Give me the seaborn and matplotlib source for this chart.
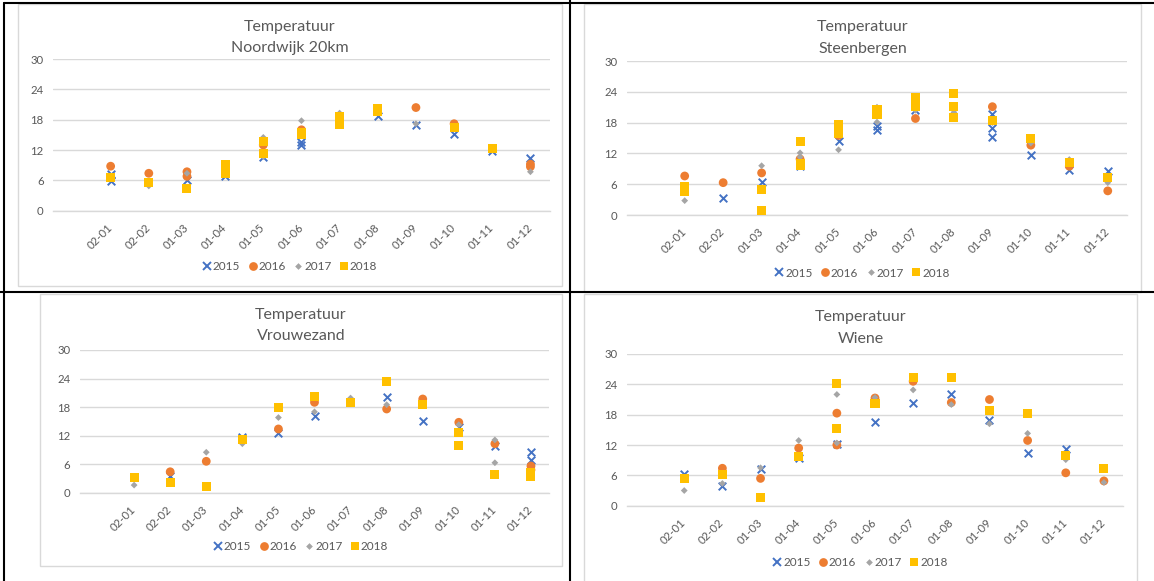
import numpy as np
import pandas as pd
import matplotlib
matplotlib.use("Agg")
import matplotlib.pyplot as plt
import seaborn as sns
from matplotlib.lines import Line2D
from matplotlib.patches import Rectangle

# ---------------- data ----------------
months = ["02-01", "02-02", "01-03", "01-04", "01-05", "01-06",
          "01-07", "01-08", "01-09", "01-10", "01-11", "01-12"]
years = ["2015", "2016", "2017", "2018"]
title_main = "Temperatuur"
locations = ["Noordwijk 20km", "Steenbergen", "Vrouwezand", "Wiene"]

# one list per month (several readings per month possible)
noordwijk_2015 = [[5.8, 7.3], [], [6.1], [8.0, 6.8], [10.6], [13.5, 13.0], [], [18.7], [17.0], [15.2], [11.8], [10.5]]
noordwijk_2016 = [[8.8], [7.4], [7.7, 6.8], [], [13.0], [16.0], [], [], [20.4], [17.2], [], [9.2, 8.7]]
noordwijk_2017 = [[], [4.9], [7.4], [], [14.5, 10.7], [17.8, 15.6], [19.3], [], [17.2], [], [], [7.7]]
noordwijk_2018 = [[6.5], [5.6], [4.3], [9.2, 7.3], [13.7, 11.4], [15.0, 15.4], [18.6, 17.8, 17.0], [20.3, 19.6], [], [16.4], [12.3], []]

steenbergen_2015 = [[], [3.4], [6.5], [9.5], [14.5], [17.3, 16.5], [20.4], [], [19.7, 17.0, 15.1], [11.7], [8.8], [8.6]]
steenbergen_2016 = [[7.6], [6.3], [8.2], [10.9], [15.5], [], [18.8], [], [21.1], [13.6], [9.5], [4.7]]
steenbergen_2017 = [[2.8], [], [9.6], [12.1, 11.3], [16.7, 12.7], [18.1, 21.0], [20.4], [20.0], [18.0], [14.0], [10.8], [6.3]]
steenbergen_2018 = [[5.5, 4.6], [], [4.9, 0.8], [14.4, 10.1, 9.6], [17.7, 15.9], [20.5, 19.5], [22.8, 21.2], [23.7, 21.2, 19.0], [18.5], [14.9], [10.2], [7.3]]

vrouwezand_2015 = [[], [3.5], [], [11.8], [12.6], [16.2], [], [20.1], [15.1], [13.9], [9.8], [8.5, 6.9]]
vrouwezand_2016 = [[], [4.4], [6.6], [], [13.4], [19.0], [], [17.6], [19.7], [14.8], [10.3], [5.6, 4.8]]
vrouwezand_2017 = [[1.6], [], [8.5], [10.3], [15.8], [17.0], [19.9], [18.5], [], [14.3], [11.1, 6.3], []]
vrouwezand_2018 = [[3.2], [2.2], [1.3], [11.2], [18.0], [20.2], [18.9], [23.4], [18.6], [12.7, 9.9], [3.9], [4.2, 3.5]]

wiene_2015 = [[6.3], [3.8], [7.3], [9.4], [12.2], [16.5], [20.3], [22.1], [16.9], [10.4], [11.3], []]
wiene_2016 = [[], [7.4], [5.4], [11.4], [18.3, 12.0], [21.3], [24.6], [20.4], [21.0], [12.9], [6.5], [4.9]]
wiene_2017 = [[3.0], [4.4], [7.5], [12.9], [22.0, 12.4], [21.4], [22.9], [20.0], [16.2], [14.3], [9.1], [4.6]]
wiene_2018 = [[5.4], [6.1], [1.7], [9.8], [24.2, 15.2], [20.3], [25.4], [25.4], [18.8], [18.2], [10.0], [7.3]]

series = {
    "Noordwijk 20km": [noordwijk_2015, noordwijk_2016, noordwijk_2017, noordwijk_2018],
    "Steenbergen": [steenbergen_2015, steenbergen_2016, steenbergen_2017, steenbergen_2018],
    "Vrouwezand": [vrouwezand_2015, vrouwezand_2016, vrouwezand_2017, vrouwezand_2018],
    "Wiene": [wiene_2015, wiene_2016, wiene_2017, wiene_2018],
}

rows = []
for loc, per_year in series.items():
    for yr, vals in zip(years, per_year):
        for mi, lst in enumerate(vals):
            for v in lst:
                rows.append({"loc": loc, "year": yr, "month": months[mi], "temp": v})
df = pd.DataFrame(rows)
# category slot 0 is empty in the original chart
cat_order = [""] + months
df["pos"] = df["month"].map({m: i for i, m in enumerate(cat_order)})

# ---------------- style ----------------
sns.set_style("white")
plt.rcParams["font.family"] = ["Lato", "DejaVu Sans"]

W, H = 1154, 581
fig = plt.figure(figsize=(W / 100, H / 100), dpi=100)
fig.patch.set_facecolor("white")

TXT = "#595959"
GRID = "#D9D9D9"
styles = {
    "2015": dict(marker="x", color="#4472C4", s=30, linewidth=1.4),
    "2016": dict(marker="o", color="#ED7D31", s=40, linewidth=0),
    "2017": dict(marker="D", color="#A5A5A5", s=12, linewidth=0),
    "2018": dict(marker="s", color="#FFC000", s=42, linewidth=0),
}
leg_ms = {"2015": 5.5, "2016": 6.3, "2017": 3.4, "2018": 6.4}

layout = {
    "Noordwijk 20km": dict(box=(18, 4, 562, 286), plot=(53.4, 59, 549.5, 210.7), t1=27, t2=48, leg=267),
    "Steenbergen": dict(box=(584, 4, 1141, 292.5), plot=(627, 61, 1127, 215), t1=27, t2=49, leg=273),
    "Vrouwezand": dict(box=(40, 294, 562, 566), plot=(80, 350, 549, 492.7), t1=315, t2=336, leg=547),
    "Wiene": dict(box=(584, 294, 1137, 600), plot=(627, 354, 1123, 505.7), t1=317, t2=339, leg=563),
}


def fx(x):
    return x / W


def fy(y):
    return 1 - y / H


for loc in locations:
    L = layout[loc]
    bx0, by0, bx1, by1 = L["box"]
    fig.add_artist(Rectangle((fx(bx0), fy(by1)), fx(bx1 - bx0), (by1 - by0) / H,
                             transform=fig.transFigure, facecolor="white",
                             edgecolor=GRID, lw=1, zorder=0))
    px0, py0, px1, py1 = L["plot"]
    ax = fig.add_axes([fx(px0), fy(py1), fx(px1 - px0), (py1 - py0) / H])
    ax.set_facecolor("none")
    sub = df[df["loc"] == loc]
    for yr in years:
        d = sub[sub["year"] == yr]
        st = styles[yr]
        if len(d):
            sns.scatterplot(data=d, x="pos", y="temp", ax=ax, marker=st["marker"],
                            color=st["color"], s=st["s"], linewidth=st["linewidth"],
                            edgecolor=st["color"] if st["marker"] == "x" else "none",
                            legend=False, clip_on=False, zorder=3)
    ax.set_xlim(-0.5, 12.5)
    ax.set_ylim(0, 30)
    ax.set_yticks(range(0, 31, 6))
    ax.set_xticks(range(13))
    ax.set_xticklabels(cat_order, rotation=45, ha="right", va="center",
                       rotation_mode="anchor", fontsize=8.2, color=TXT)
    ax.set_xticks(np.arange(-0.5, 13, 1), minor=True)
    ax.tick_params(axis="x", which="major", length=0, pad=11)
    ax.tick_params(axis="x", which="minor", length=4, color=GRID, width=1, direction="out")
    ax.tick_params(axis="y", length=0, pad=7, labelsize=8.2, labelcolor=TXT)
    ax.set_xlabel("")
    ax.set_ylabel("")
    ax.grid(axis="y", color=GRID, lw=1)
    ax.grid(axis="x", visible=False)
    ax.set_axisbelow(True)
    for sp in ("top", "left", "right"):
        ax.spines[sp].set_visible(False)
    ax.spines["bottom"].set_color(GRID)
    ax.spines["bottom"].set_linewidth(1)

    cx = (bx0 + bx1) / 2
    fig.text(fx(cx), fy(L["t1"]), title_main, ha="center", va="center", fontsize=11.5, color=TXT)
    fig.text(fx(cx), fy(L["t2"]), loc, ha="center", va="center", fontsize=11.5, color=TXT)

    handles = []
    for yr in years:
        st = styles[yr]
        handles.append(Line2D([], [], ls="", marker=st["marker"], color=st["color"],
                              markersize=leg_ms[yr],
                              markeredgewidth=1.4 if st["marker"] == "x" else 0,
                              label=yr))
    ax.legend(handles=handles, loc="center", bbox_to_anchor=(fx(cx), fy(L["leg"])),
              bbox_transform=fig.transFigure, ncol=4, frameon=False, fontsize=8.5,
              handlelength=0.7, handletextpad=0.15, columnspacing=0.7,
              labelcolor=TXT, borderpad=0)

# table borders
for (x0, y0, x1, y1) in [(4, 3, W, 3), (4, 3, 4, H), (569.5, 0, 569.5, H), (0, 292.5, W, 292.5)]:
    fig.add_artist(Line2D([fx(x0), fx(x1)], [fy(y0), fy(y1)], transform=fig.transFigure,
                          color="black", lw=1.5, zorder=10))

fig.savefig("out.png", dpi=100, facecolor="white")
